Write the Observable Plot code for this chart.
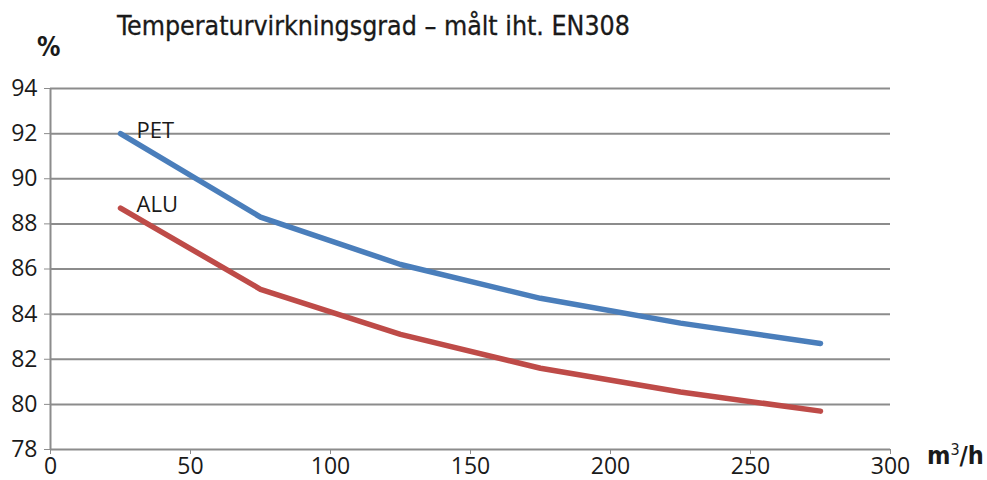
<!DOCTYPE html>
<html>
<head>
<meta charset="utf-8">
<script src="https://cdn.jsdelivr.net/npm/d3@7"></script>
<script src="https://cdn.jsdelivr.net/npm/@observablehq/plot@0.6"></script>
<style>
  html, body { margin: 0; padding: 0; background: #fff; }
  #wrap { position: relative; width: 987px; height: 480px; overflow: hidden; }
  .lbl { position: absolute; color: #1a1a1a; white-space: nowrap; }
  #title { left: 117px; top: 10px; font-family: "DejaVu Sans Condensed", "DejaVu Sans"; font-size: 26.5px; letter-spacing: 0px; -webkit-text-stroke: 0.3px #1a1a1a; }
  #unitY { left: 37px; top: 32px; font-family: "DejaVu Sans Condensed", "DejaVu Sans"; font-size: 26px; font-weight: bold; }
  #unitX { left: 927px; top: 440px; font-family: "DejaVu Sans Condensed", "DejaVu Sans"; font-size: 25px; font-weight: bold; }
  #unitX sup { font-size: 16px; vertical-align: 9px; font-weight: normal; }
</style>
</head>
<body>
<div id="wrap">
  <div id="chart"></div>
  <div class="lbl" id="title">Temperaturvirkningsgrad – målt iht. EN308</div>
  <div class="lbl" id="unitY">%</div>
  <div class="lbl" id="unitX">m<sup>3</sup>/h</div>
</div>
<script>
const flows = [25, 75, 125, 175, 225, 275];
const pet = [92.0, 88.3, 86.2, 84.7, 83.6, 82.7];
const alu = [88.7, 85.1, 83.1, 81.6, 80.55, 79.7];
const seriesNames = ["PET", "ALU"];
const seriesColors = ["#4a7ebb", "#be4b48"];
const xTicks = [0, 50, 100, 150, 200, 250, 300];
const yTicks = [78, 80, 82, 84, 86, 88, 90, 92, 94];

const rows = [];
[pet, alu].forEach((vals, i) => {
  flows.forEach((f, j) => rows.push({series: seriesNames[i], flow: f, value: vals[j]}));
});
const labels = seriesNames.map((s, i) => ({series: s, flow: flows[0], value: [pet, alu][i][0]}));

const font = "Open Sans";
const chart = Plot.plot({
  width: 987,
  height: 480,
  marginLeft: 50,
  marginRight: 97,
  marginTop: 88,
  marginBottom: 31,
  style: {fontFamily: font, background: "transparent", overflow: "visible"},
  x: {domain: [0, 300], ticks: xTicks},
  y: {domain: [78, 94], ticks: yTicks},
  marks: [
    Plot.ruleY(yTicks, {stroke: "#8c8c8c", strokeWidth: 2}),
    Plot.ruleX([0], {stroke: "#8c8c8c", strokeWidth: 2}),
    Plot.axisY({ticks: yTicks, tickSize: 6, tickPadding: 7, stroke: "#8c8c8c", fill: "#1a1a1a", fontSize: 23, label: null}),
    Plot.axisX({ticks: xTicks, tickSize: 5, tickPadding: 3, stroke: "#8c8c8c", fill: "#1a1a1a", fontSize: 23, label: null}),
    Plot.line(rows, {x: "flow", y: "value", z: "series", stroke: "series", strokeWidth: 5.5, curve: "linear", strokeLinecap: "round", strokeLinejoin: "round"}),
    Plot.text(labels, {x: "flow", y: "value", text: "series", textAnchor: "start", dx: 16, dy: -3, fontSize: 22, fill: "#1a1a1a"})
  ],
  color: {domain: seriesNames, range: seriesColors}
});
document.getElementById("chart").appendChild(chart);
</script>
</body>
</html>
